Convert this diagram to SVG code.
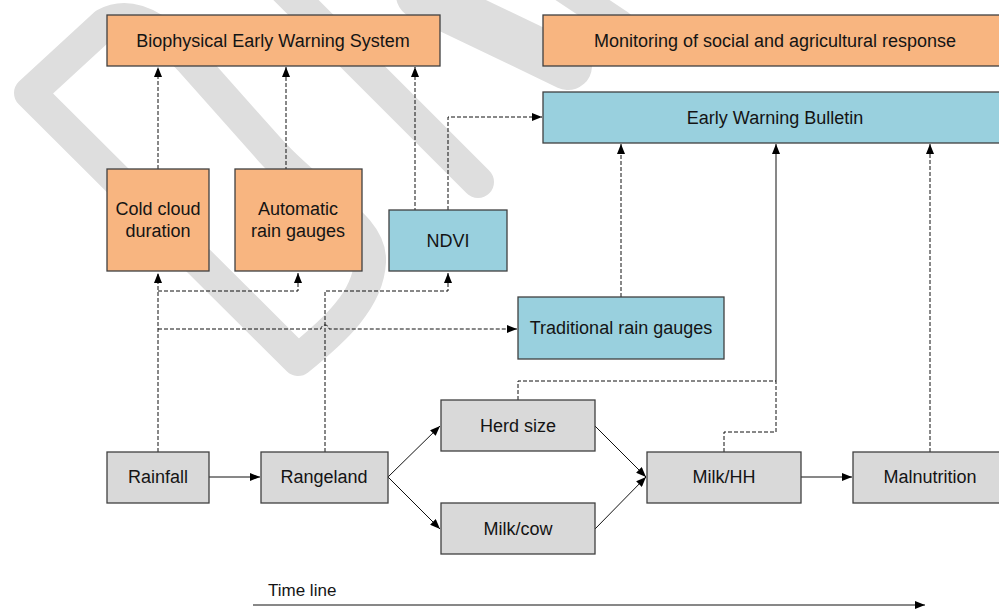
<svg xmlns="http://www.w3.org/2000/svg" width="999" height="609" viewBox="0 0 999 609">
<defs>
<marker id="ah" viewBox="0 0 10 8" refX="10" refY="4" markerWidth="10" markerHeight="8" markerUnits="userSpaceOnUse" orient="auto"><path d="M0,0 L10,4 L0,8 z" fill="#000"/></marker>
<style>
.wm{fill:none;stroke:#dedede;stroke-width:32;stroke-linecap:round;stroke-linejoin:round}
.box rect{stroke:#404040;stroke-width:1.3}
.or{fill:#f8b580}
.bl{fill:#99d0de}
.gr{fill:#d9d9d9}
text{font-family:"Liberation Sans",Arial,sans-serif;font-size:18px;fill:#141414;text-anchor:middle}
.d{fill:none;stroke:#111;stroke-width:1;stroke-dasharray:4 2}
.s{fill:none;stroke:#111;stroke-width:1}
.a{marker-end:url(#ah)}
</style>
</defs>
<rect width="999" height="609" fill="#fff"/>
<g id="watermark">
<path class="wm" d="M298,360 L30,93 L105,24 Q140,5 190,60 L270,150 C320,205 372,225 370,262 C368,300 335,330 298,360 Z"/>
<path class="wm" d="M280,-16 L478,182"/>
<path class="wm" style="stroke-width:48" d="M420,-5 L568,66"/>
<path class="wm" style="stroke-width:30" d="M545,-25 L620,25"/>
</g>
<g id="connectors">
<path class="d a" d="M158,169 V67"/>
<path class="d a" d="M286,195 V67"/>
<path class="d a" d="M415,236 V67"/>
<path class="d a" d="M448,210 V117 H542"/>
<path class="d a" d="M158,452 V273"/>
<path class="d a" d="M158,291 H298 V273"/>
<path class="d a" d="M158,329 H321 A4,4 0 0 1 329,329 H517"/>
<path class="d a" d="M325,452 V291 H448 V273"/>
<path class="d a" d="M621,297 V144"/>
<path class="d" d="M518,400 V381 H776"/>
<path class="d" d="M724,452 V432 H776 V381"/>
<path class="s a" d="M776,381 V144"/>
<path class="d a" d="M930,452 V144"/>
<path class="s a" d="M209,477 H260"/>
<path class="s a" d="M388,477 L440,426"/>
<path class="s a" d="M388,477 L440,529"/>
<path class="s a" d="M595,426 L646,477"/>
<path class="s a" d="M595,529 L646,477"/>
<path class="s a" d="M801,477 H852"/>
<path class="s a" d="M253,605 H925"/>
</g>
<g id="bews" class="box"><rect class="or" x="107" y="15" width="333" height="51"/><text x="273" y="47">Biophysical Early Warning System</text></g>
<g id="monitoring" class="box"><rect class="or" x="543" y="15" width="464" height="51"/><text x="775" y="47">Monitoring of social and agricultural response</text></g>
<g id="ewb" class="box"><rect class="bl" x="543" y="92" width="464" height="51"/><text x="775" y="124">Early Warning Bulletin</text></g>
<g id="ccd" class="box"><rect class="or" x="107" y="169" width="102" height="102"/><text x="158" y="215">Cold cloud</text><text x="158" y="237">duration</text></g>
<g id="arg" class="box"><rect class="or" x="235" y="169" width="127" height="102"/><text x="298" y="215">Automatic</text><text x="298" y="237">rain gauges</text></g>
<g id="ndvi" class="box"><rect class="bl" x="389" y="210" width="118" height="61"/><text x="448" y="247">NDVI</text></g>
<g id="trg" class="box"><rect class="bl" x="518" y="297" width="206" height="62"/><text x="621" y="334">Traditional rain gauges</text></g>
<g id="herd" class="box"><rect class="gr" x="441" y="400" width="154" height="51"/><text x="518" y="432">Herd size</text></g>
<g id="milkcow" class="box"><rect class="gr" x="441" y="503" width="154" height="51"/><text x="518" y="535">Milk/cow</text></g>
<g id="rainfall" class="box"><rect class="gr" x="107" y="452" width="102" height="51"/><text x="158" y="483">Rainfall</text></g>
<g id="rangeland" class="box"><rect class="gr" x="261" y="452" width="127" height="51"/><text x="324" y="483">Rangeland</text></g>
<g id="milkhh" class="box"><rect class="gr" x="647" y="452" width="154" height="51"/><text x="724" y="483">Milk/HH</text></g>
<g id="malnutrition" class="box"><rect class="gr" x="853" y="452" width="154" height="51"/><text x="930" y="483">Malnutrition</text></g>
<g id="timeline"><text x="268" y="596" style="text-anchor:start;font-size:17px">Time line</text></g>
</svg>
